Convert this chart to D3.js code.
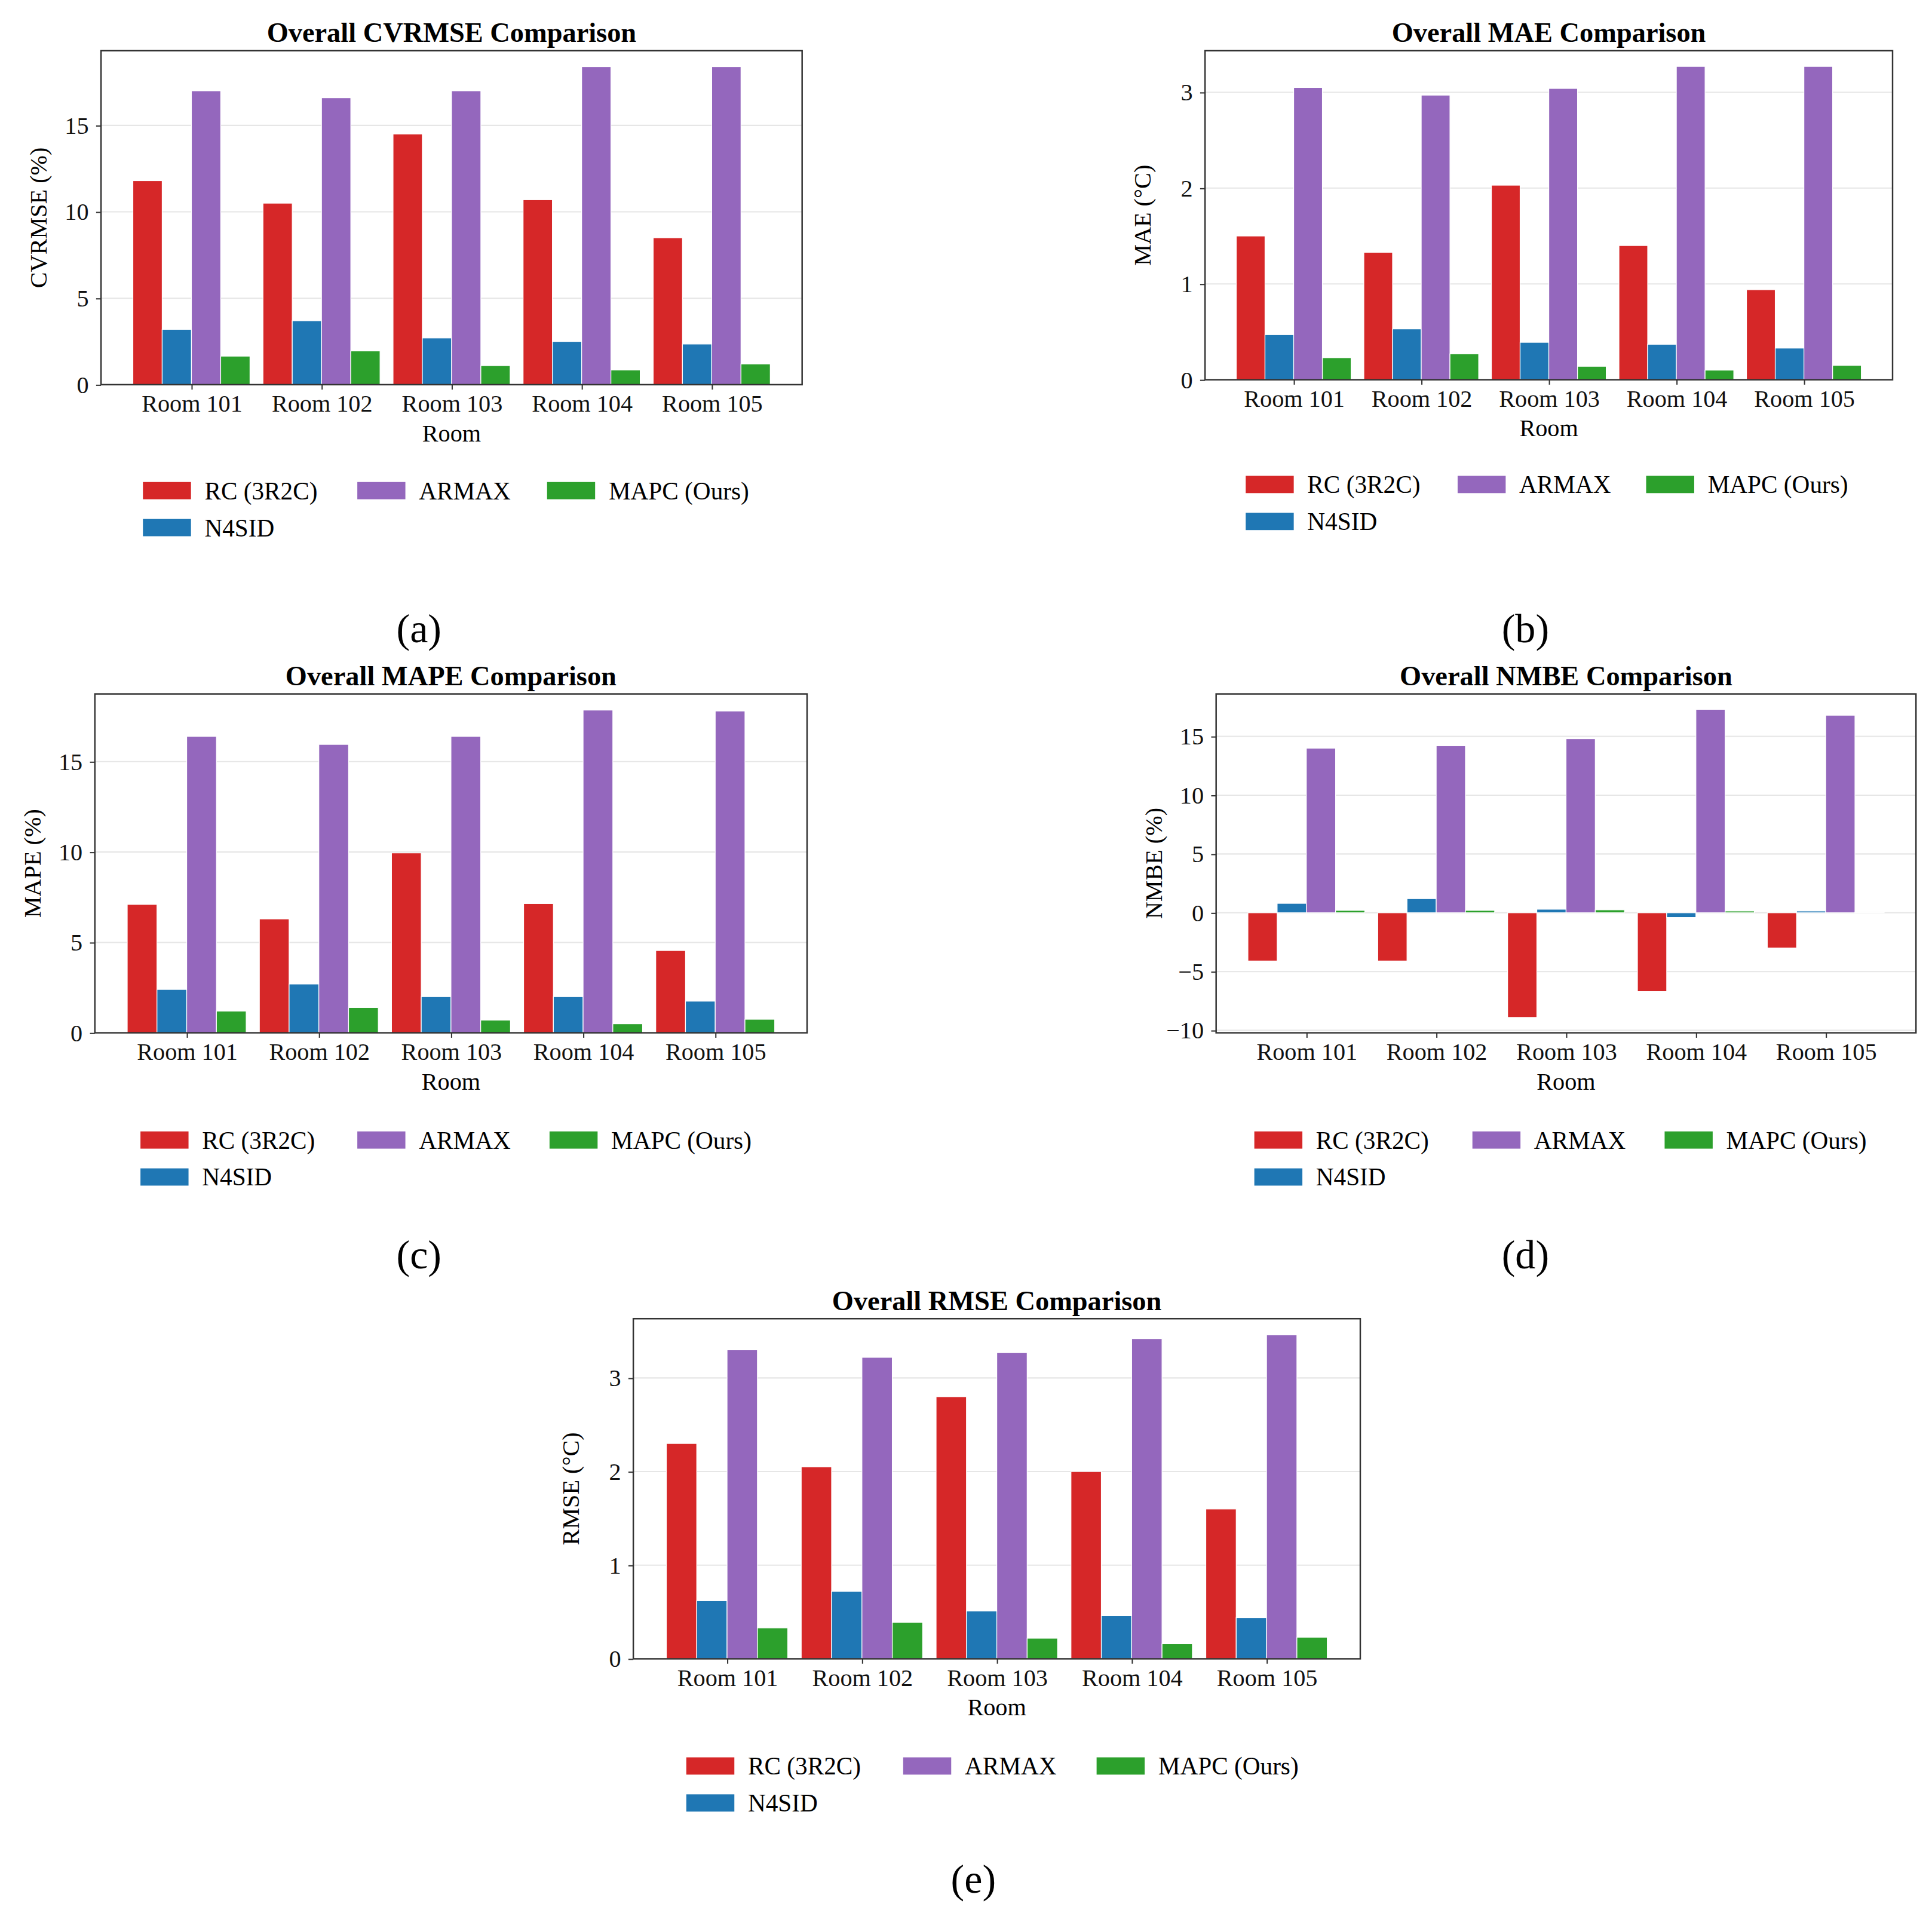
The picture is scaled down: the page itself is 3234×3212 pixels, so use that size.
<!DOCTYPE html>
<html><head><meta charset="utf-8">
<script src="https://cdn.jsdelivr.net/npm/d3@7"></script>
<style>body{margin:0;background:#fff}</style>
</head><body>
<svg id="fig" width="3234" height="3212" viewBox="0 0 1568 1557"></svg>
<script>
// Data
const rooms = ['Room 101','Room 102','Room 103','Room 104','Room 105']
const models = ['RC (3R2C)','N4SID','ARMAX','MAPC (Ours)']
const colors = ['#d62728','#1f77b4','#9467bd','#2ca02c']

const cvrmse = [[11.8,10.5,14.5,10.7,8.5],[3.2,3.7,2.7,2.5,2.35],[17.0,16.6,17.0,18.4,18.4],[1.65,1.95,1.1,0.85,1.2]]
const mae = [[1.5,1.33,2.03,1.4,0.94],[0.47,0.53,0.39,0.37,0.33],[3.05,2.97,3.04,3.27,3.27],[0.23,0.27,0.14,0.1,0.15]]
const mape = [[7.1,6.3,9.95,7.15,4.55],[2.4,2.7,2.0,2.0,1.75],[16.4,15.95,16.4,17.85,17.8],[1.2,1.4,0.7,0.5,0.75]]
const nmbe = [[-4.1,-4.1,-8.9,-6.7,-3.0],[0.8,1.2,0.3,-0.4,0.15],[14.0,14.2,14.8,17.3,16.8],[0.2,0.2,0.25,0.15,0.05]]
const rmse = [[2.3,2.05,2.8,2.0,1.6],[0.62,0.72,0.51,0.46,0.44],[3.3,3.22,3.27,3.42,3.46],[0.33,0.39,0.22,0.16,0.23]]

const panels = [
  {title:'Overall CVRMSE Comparison', ylab:'CVRMSE (%)', data:cvrmse, ticks:[0,5,10,15], box:[82,41,651,312], leg:[116,290,444,398], tag:'(a)', tagPos:[340,510]},
  {title:'Overall MAE Comparison', ylab:'MAE (°C)', data:mae, ticks:[0,1,2,3], box:[978,41,1536,308], leg:[1011,1183,1336,393], tag:'(b)', tagPos:[1238,510]},
  {title:'Overall MAPE Comparison', ylab:'MAPE (%)', data:mape, ticks:[0,5,10,15], box:[77,563,655,838], leg:[114,290,446,925], tag:'(c)', tagPos:[340,1018]},
  {title:'Overall NMBE Comparison', ylab:'NMBE (%)', data:nmbe, ticks:[-10,-5,0,5,10,15], box:[987,563,1555,838], leg:[1018,1195,1351,925], tag:'(d)', tagPos:[1238,1018]},
  {title:'Overall RMSE Comparison', ylab:'RMSE (°C)', data:rmse, ticks:[0,1,2,3], box:[514,1070,1104,1346], leg:[557,733,890,1433], tag:'(e)', tagPos:[790,1525]}
]

const svg = d3.select('#fig')
const font = 'Liberation Serif, Times New Roman, serif'
const bw = 0.225

panels.forEach(p => {
  const [x0,y0,x1,y1] = p.box
  const g = svg.append('g')
  const all = p.data.flat()
  let lo = Math.min(0, d3.min(all)), hi = d3.max(all)
  const pad = (hi - lo) * 0.05
  if (lo < 0) lo -= pad
  hi += pad
  const x = d3.scaleLinear().domain([-0.695, 4.695]).range([x0,x1])
  const y = d3.scaleLinear().domain([lo,hi]).range([y1,y0])

  // grid
  g.selectAll('.grid').data(p.ticks).enter().append('line')
    .attr('x1',x0).attr('x2',x1).attr('y1',d=>y(d)).attr('y2',d=>y(d))
    .attr('stroke','#e6e6e6').attr('stroke-width',1)

  // bars
  p.data.forEach((series, si) => {
    g.selectAll(null).data(series).enter().append('rect')
      .attr('x', (d,i) => x(i + (si-1.5)*bw - bw/2))
      .attr('width', x(bw) - x(0))
      .attr('y', d => y(Math.max(0,d)))
      .attr('height', d => Math.abs(y(d) - y(0)))
      .attr('fill', colors[si])
      .attr('stroke','#fff').attr('stroke-width',0.6)
  })

  // frame
  g.append('rect').attr('x',x0).attr('y',y0).attr('width',x1-x0).attr('height',y1-y0)
    .attr('fill','none').attr('stroke','#333').attr('stroke-width',1.2)

  // axes
  const ya = g.append('g').attr('transform',`translate(${x0},0)`)
    .call(d3.axisLeft(y).tickValues(p.ticks).tickSize(4).tickPadding(6).tickFormat(d=>d<0?'\u2212'+(-d):d))
  const xa = g.append('g').attr('transform',`translate(0,${y1})`)
    .call(d3.axisBottom(x).tickValues([0,1,2,3,4]).tickSize(4).tickPadding(4).tickFormat(i=>rooms[i]))
  ;[ya,xa].forEach(a => {
    a.select('.domain').remove()
    a.selectAll('line').attr('stroke','#333')
    a.selectAll('text').attr('font-family',font).attr('font-size',19.5).attr('fill','#111')
  })

  g.append('text').attr('x',(x0+x1)/2).attr('y',y1+46).attr('text-anchor','middle')
    .attr('font-family',font).attr('font-size',19.5).text('Room')
  g.append('text').attr('transform',`translate(${x0-44},${(y0+y1)/2}) rotate(-90)`)
    .attr('text-anchor','middle').attr('font-family',font).attr('font-size',19.5).text(p.ylab)
  g.append('text').attr('x',(x0+x1)/2).attr('y',y0-7).attr('text-anchor','middle')
    .attr('font-family',font).attr('font-size',22.5).attr('font-weight','bold').text(p.title)

  // legend: 3 columns, filled column-wise
  const [c1,c2,c3,ly] = p.leg
  const pos = [[c1,ly],[c1,ly+30],[c2,ly],[c3,ly]]
  models.forEach((m,i) => {
    const [lx,yy] = pos[i]
    g.append('rect').attr('x',lx).attr('y',yy-7).attr('width',39).attr('height',14)
      .attr('fill',colors[i])
    g.append('text').attr('x',lx+50).attr('y',yy+7).attr('font-family',font)
      .attr('font-size',20).text(m)
  })

  g.append('text').attr('x',p.tagPos[0]).attr('y',p.tagPos[1]+11).attr('text-anchor','middle')
    .attr('font-family',font).attr('font-size',33).text(p.tag)
})
</script>
</body></html>
